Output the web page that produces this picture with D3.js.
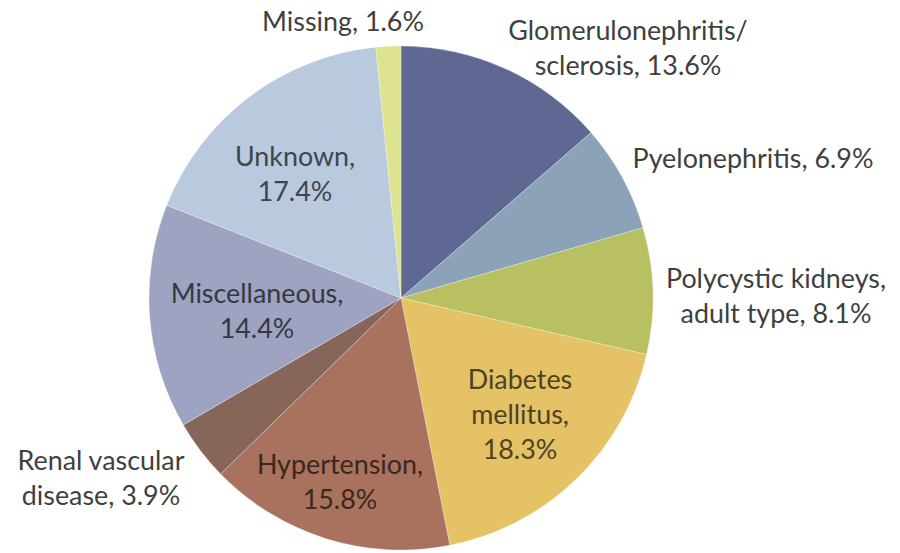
<!DOCTYPE html>
<html>
<head>
<meta charset="utf-8">
<script src="https://cdn.jsdelivr.net/npm/d3@7"></script>
<style>
  html, body { margin: 0; padding: 0; background: #fff; }
  svg { display: block; }
</style>
</head>
<body>
<svg id="chart" width="900" height="553"></svg>
<script>
// ---- data ----
const categories = [
  "Glomerulonephritis/ sclerosis",
  "Pyelonephritis",
  "Polycystic kidneys, adult type",
  "Diabetes mellitus",
  "Hypertension",
  "Renal vascular disease",
  "Miscellaneous",
  "Unknown",
  "Missing"
];
const values = [13.6, 6.9, 8.1, 18.3, 15.8, 3.9, 14.4, 17.4, 1.6];
const labelLines = [
  ["Glomerulonephritis/", "sclerosis, 13.6%"],
  ["Pyelonephritis, 6.9%"],
  ["Polycystic kidneys,", "adult type, 8.1%"],
  ["Diabetes", "mellitus,", "18.3%"],
  ["Hypertension,", "15.8%"],
  ["Renal vascular", "disease, 3.9%"],
  ["Miscellaneous,", "14.4%"],
  ["Unknown,", "17.4%"],
  ["Missing, 1.6%"]
];
const colors = ["#5f6893", "#8ca2b9", "#b8c061", "#e4c265", "#a9725e", "#86665b", "#9ea3c1", "#b9cade", "#dde38f"];

// ---- layout (not data) ----
const cx = 401, cy = 298, R = 252;
const lineH = 35;
// label anchor: centre x and first-line baseline
const labelLayout = [
  {x: 628, y: 40, inside: false},
  {x: 753, y: 168, inside: false},
  {x: 776, y: 288, inside: false},
  {x: 520, y: 389, inside: true},
  {x: 340, y: 474, inside: true},
  {x: 101, y: 470, inside: false},
  {x: 257, y: 303, inside: true},
  {x: 295, y: 166, inside: true},
  {x: 343, y: 31, inside: false}
];

const svg = d3.select("#chart");
const g = svg.append("g").attr("transform", `translate(${cx},${cy})`);

const data = categories.map((c, i) => ({name: c, value: values[i], i}));
const pie = d3.pie().sort(null).value(d => d.value);
const arc = d3.arc().innerRadius(0).outerRadius(R);
const arcs = pie(data);

g.selectAll("path.slice")
  .data(arcs)
  .join("path")
  .attr("class", "slice")
  .attr("d", arc)
  .attr("fill", d => colors[d.data.i])
  .attr("stroke", "rgba(255,255,255,0.35)")
  .attr("stroke-width", 0.8);

// font size fitted so "Pyelonephritis, 6.9%" spans ~241px
const fontFamily = "Lato, 'Open Sans', sans-serif";
const probe = svg.append("text").attr("font-family", fontFamily).attr("font-size", 100).text(labelLines[1][0]);
const w100 = probe.node().getComputedTextLength();
probe.remove();
const fs = Math.min(30, 100 * 241 / w100);

arcs.forEach(a => {
  const i = a.data.i;
  const L = labelLayout[i];
  const fill = L.inside ? d3.color(colors[i]).darker(3).formatHex() : "#3f3f3f";
  const t = svg.append("text")
    .attr("font-family", fontFamily)
    .attr("font-size", fs)
    .attr("text-anchor", "middle")
    .attr("fill", fill);
  labelLines[i].forEach((ln, k) => {
    t.append("tspan").attr("x", L.x).attr("y", L.y + k * lineH).text(ln);
  });
});
</script>
</body>
</html>
